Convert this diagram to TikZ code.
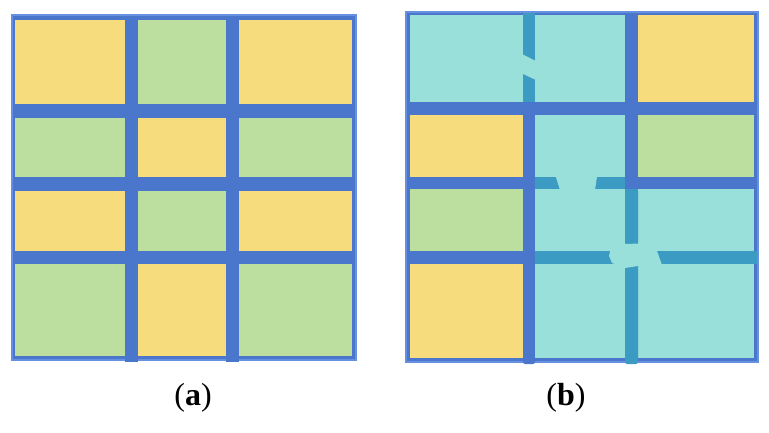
\documentclass[tikz,border=0pt]{standalone}
\usepackage{fontspec}
\setmainfont{Liberation Serif}
\definecolor{bbar}{HTML}{4A76CC}
\definecolor{bedge}{HTML}{6690E0}
\definecolor{yel}{HTML}{F7DC7E}
\definecolor{grn}{HTML}{BCDFA0}
\definecolor{tealc}{HTML}{98E0D9}
\definecolor{dteal}{HTML}{3B9BC2}
\begin{document}
\begin{tikzpicture}[x=1pt,y=-1pt,
  frame/.style={fill=bbar,draw=bedge,line width=1.2pt},
  lab/.style={font=\fontsize{32}{36}\selectfont,inner sep=0pt}]
\useasboundingbox (0,0) rectangle (769,432);
% ---------- panel (a) ----------
\draw[frame] (12,15) rectangle (356,360);
\fill[bbar] (125,358) rectangle (138,362);
\fill[bbar] (226,358) rectangle (239,362);
% row 1
\fill[yel] (15,20) rectangle (125,104);
\fill[grn] (138,20) rectangle (226,104);
\fill[yel] (239,20) rectangle (352,104);
% row 2
\fill[grn] (15,118) rectangle (125,177);
\fill[yel] (138,118) rectangle (226,177);
\fill[grn] (239,118) rectangle (352,177);
% row 3
\fill[yel] (15,191) rectangle (125,251);
\fill[grn] (138,191) rectangle (226,251);
\fill[yel] (239,191) rectangle (352,251);
% row 4
\fill[grn] (15,264) rectangle (125,356);
\fill[yel] (138,264) rectangle (226,356);
\fill[grn] (239,264) rectangle (352,356);
% ---------- panel (b) ----------
\draw[frame] (406,12) rectangle (758,362);
\fill[bbar,rounded corners=2pt] (523,355) rectangle (535,364);
% row 1
\fill[tealc] (410,15) rectangle (523,102);
\fill[tealc] (535,15) rectangle (625,102);
\fill[yel] (638,15) rectangle (754,102);
% row 2
\fill[yel] (410,115) rectangle (523,177);
\fill[tealc] (535,115) rectangle (625,177);
\fill[grn] (638,115) rectangle (754,177);
% row 3
\fill[grn] (410,189) rectangle (523,251);
\fill[tealc] (535,189) rectangle (625,251);
\fill[tealc] (638,189) rectangle (754,251);
% row 4
\fill[yel] (410,264) rectangle (523,358);
\fill[tealc] (535,264) rectangle (625,358);
\fill[tealc] (638,264) rectangle (754,358);
% dark teal joints inside the merged region
\fill[dteal] (523,13) rectangle (535,102);
\fill[dteal] (535,177) rectangle (625,189);
\fill[dteal,rounded corners=2pt] (625,189) rectangle (638,364);
\fill[dteal] (625,189) rectangle (638,200);
\fill[dteal] (535,251) rectangle (757,264);
% cracks / healed spots
\fill[tealc] (514,50) -- (536,61) -- (551,77) -- (536,80) -- (521,73) -- (519,58) -- cycle;
\fill[tealc] (552,165) -- (580,163) -- (598,170) -- (595,190) -- (587,199) -- (561,193) -- cycle;
\fill[tealc] (611,247) -- (625,244) -- (655,243) -- (657,251) -- (662,265) -- (638,266) -- (625,268) -- (612,263) -- (609,256) -- cycle;
% ---------- labels ----------
\node[lab] (la) at (193,398) {(\textbf{a})};
\node[lab] (lb) at (566,398) {(\textbf{b})};
\end{tikzpicture}
\end{document}
